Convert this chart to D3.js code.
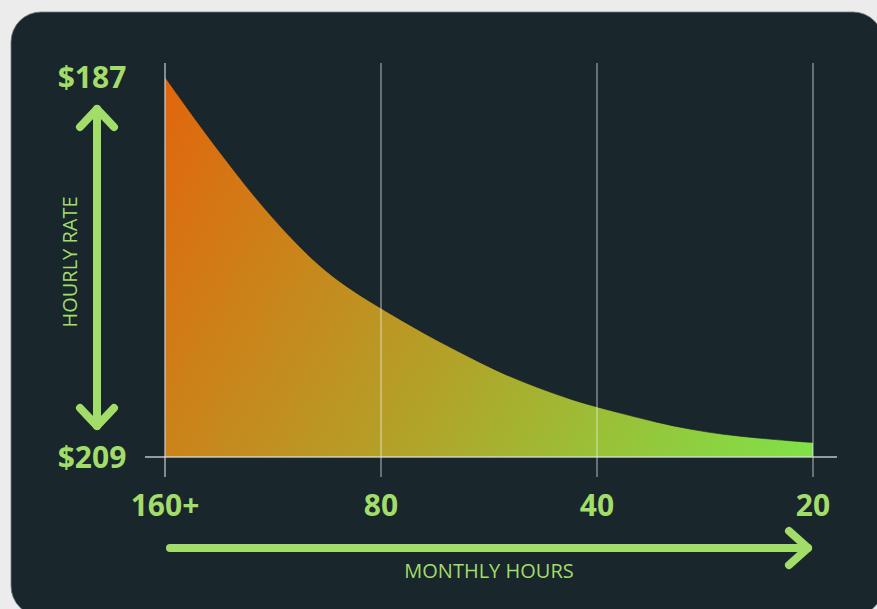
<!DOCTYPE html>
<html>
<head>
<meta charset="utf-8">
<script src="https://cdn.jsdelivr.net/npm/d3@7"></script>
<style>
  html, body { margin: 0; padding: 0; background: #ececec; }
  svg { display: block; font-family: "Open Sans", "Noto Sans", sans-serif; }
</style>
</head>
<body>
<svg id="chart" width="877" height="609"></svg>
<script>
// monthly hours (x) and hourly rate in $ (y)
var hours = [160, 143.9, 129.0, 116.1, 101.1, 90.7, 80, 74.1, 66.6, 59.7, 53.7,
             48.3, 43.3, 40, 36.8, 33.0, 29.7, 26.7, 23.9, 21.5, 20];
var rates = [187.0, 189.7, 192.3, 194.7, 197.4, 199.0, 200.4, 201.2, 202.3, 203.3, 204.25,
             205.0, 205.7, 206.1, 206.5, 207.0, 207.4, 207.7, 207.9, 208.07, 208.16];

var hourTicks = [160, 80, 40, 20];
var hourLabels = ['160+', '80', '40', '20'];
var rateTicks = [187, 209];

var green = '#a2dc69';
var svg = d3.select('#chart');

// dark card
svg.append('rect')
  .attr('x', 11).attr('y', 12)
  .attr('width', 872).attr('height', 604)
  .attr('rx', 30)
  .attr('fill', '#19262c')
  .attr('stroke', '#6f7b80')
  .attr('stroke-width', 0.8);

var x = d3.scaleLog().domain([160, 20]).range([165, 813]);
var y = d3.scaleLinear().domain([209, 187]).range([457, 77]);

var data = hours.map(function(h, i) { return { h: h, r: rates[i] }; });

var grad = svg.append('defs').append('linearGradient')
  .attr('id', 'fillGrad')
  .attr('gradientUnits', 'userSpaceOnUse')
  .attr('x1', x(160)).attr('y1', y(187))
  .attr('x2', x(20)).attr('y2', y(209));
grad.append('stop').attr('offset', '0%').attr('stop-color', '#e2650c');
grad.append('stop').attr('offset', '50%').attr('stop-color', '#b4a027');
grad.append('stop').attr('offset', '100%').attr('stop-color', '#7fe249');

var area = d3.area()
  .x(function(d) { return x(d.h); })
  .y0(y(209))
  .y1(function(d) { return y(d.r); })
  .curve(d3.curveBasis);

svg.append('path')
  .datum(data)
  .attr('d', area)
  .attr('fill', 'url(#fillGrad)');

svg.append('path')
  .datum(data)
  .attr('d', area.lineY1())
  .attr('fill', 'none')
  .attr('stroke', '#121c20')
  .attr('stroke-width', 0.6);

// vertical grid lines
svg.selectAll('.grid')
  .data(hourTicks)
  .enter().append('line')
  .attr('x1', function(d) { return x(d); })
  .attr('x2', function(d) { return x(d); })
  .attr('y1', y(187) - 14)
  .attr('y2', y(209) + 20)
  .attr('stroke', function(d, i) { return i === 0 ? 'rgba(200,210,214,0.6)' : 'rgba(235,240,240,0.75)'; })
  .attr('stroke-width', function(d, i) { return i === 0 ? 2 : 1; });

// baseline
svg.append('line')
  .attr('x1', x(160) - 20).attr('x2', x(20) + 24)
  .attr('y1', y(209)).attr('y2', y(209))
  .attr('stroke', 'rgba(220,225,226,0.85)')
  .attr('stroke-width', 1.5);

// x tick labels
svg.selectAll('.xlab')
  .data(hourTicks)
  .enter().append('text')
  .attr('x', function(d) { return x(d); })
  .attr('y', 516)
  .attr('text-anchor', 'middle')
  .attr('fill', green)
  .style('font-size', '30px')
  .style('font-weight', 700)
  .text(function(d, i) { return hourLabels[i]; });

// y labels
svg.selectAll('.ylab')
  .data(rateTicks)
  .enter().append('text')
  .attr('x', 92)
  .attr('y', function(d) { return y(d) + 11; })
  .attr('text-anchor', 'middle')
  .attr('fill', green)
  .style('font-size', '30px')
  .style('font-weight', 700)
  .text(function(d) { return '$' + d; });

// arrows
var arrows = svg.append('g')
  .attr('fill', 'none')
  .attr('stroke', green)
  .attr('stroke-width', 8)
  .attr('stroke-linecap', 'round')
  .attr('stroke-linejoin', 'round');

arrows.append('path').attr('d', 'M97,109 L97,426');
arrows.append('path').attr('d', 'M80,127 L97,109 L114,127');
arrows.append('path').attr('d', 'M80,408 L97,426 L114,408');

arrows.append('path').attr('d', 'M170,548 L808,548');
arrows.append('path').attr('d', 'M789,531 L808,548 L789,565');

// axis titles
svg.append('text')
  .attr('transform', 'translate(77,262) rotate(-90)')
  .attr('text-anchor', 'middle')
  .attr('fill', green)
  .style('font-size', '20px')
  .text('HOURLY RATE');

svg.append('text')
  .attr('x', 489)
  .attr('y', 578)
  .attr('text-anchor', 'middle')
  .attr('fill', green)
  .style('font-size', '20px')
  .text('MONTHLY HOURS');
</script>
</body>
</html>
